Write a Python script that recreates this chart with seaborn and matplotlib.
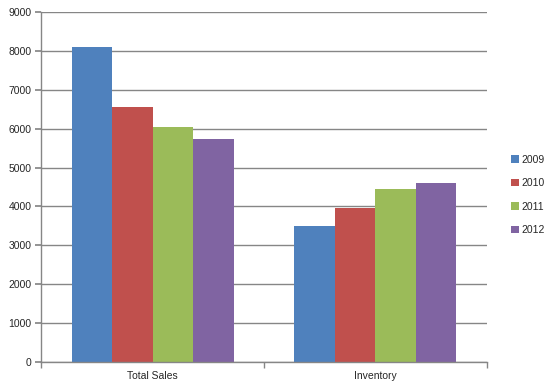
import pandas as pd
import matplotlib
matplotlib.use("Agg")
import matplotlib.pyplot as plt
import seaborn as sns

categories = ["Total Sales", "Inventory"]
years = ["2009", "2010", "2011", "2012"]
sales_values = [8100, 6550, 6030, 5720]
inventory_values = [3510, 3950, 4440, 4590]
colors = ["#4F81BD", "#C0504D", "#9BBB59", "#8064A2"]

rows = []
for y, s, i in zip(years, sales_values, inventory_values):
    rows.append({"Category": "Total Sales", "Year": y, "Value": s})
    rows.append({"Category": "Inventory", "Year": y, "Value": i})
df = pd.DataFrame(rows)

sns.set_theme(style="white")
plt.rcParams["font.family"] = ["Liberation Sans", "DejaVu Sans"]

fig = plt.figure(figsize=(5.46, 3.90), dpi=100)
ax = fig.add_axes([41.3 / 546, 27.7 / 390, 445.4 / 546, 350.6 / 390])

sns.barplot(data=df, x="Category", y="Value", hue="Year", order=categories,
            hue_order=years, palette=colors, width=0.727, gap=0,
            saturation=1, linewidth=0, errorbar=None, ax=ax)

ax.set_xlim(-0.5, 1.5)
ax.set_ylim(0, 9000)
ax.set_yticks(range(0, 9001, 1000))
ax.yaxis.grid(True, color="#868686", linewidth=1)
ax.set_axisbelow(True)
ax.set_xlabel("")
ax.set_ylabel("")

for side in ["top", "right"]:
    ax.spines[side].set_visible(False)
for side in ["left", "bottom"]:
    ax.spines[side].set_color("#868686")
    ax.spines[side].set_linewidth(1)

ax.tick_params(axis="y", which="major", left=True, length=4, color="#868686",
               labelsize=7.5, pad=3)
ax.tick_params(axis="x", which="major", length=0, labelsize=7.5, pad=6)
ax.set_xticks([-0.5, 0.5, 1.5], minor=True)
ax.tick_params(axis="x", which="minor", bottom=True, length=4, color="#868686")

handles, labels = ax.get_legend_handles_labels()
ax.legend(handles, labels, loc="center left", bbox_to_anchor=(506 / 546, 195 / 390),
          bbox_transform=fig.transFigure, frameon=False, fontsize=7.5,
          handlelength=0.7, handleheight=0.7, handletextpad=0.3, labelspacing=1.3,
          borderpad=0)

fig.savefig("out.png", dpi=100)
